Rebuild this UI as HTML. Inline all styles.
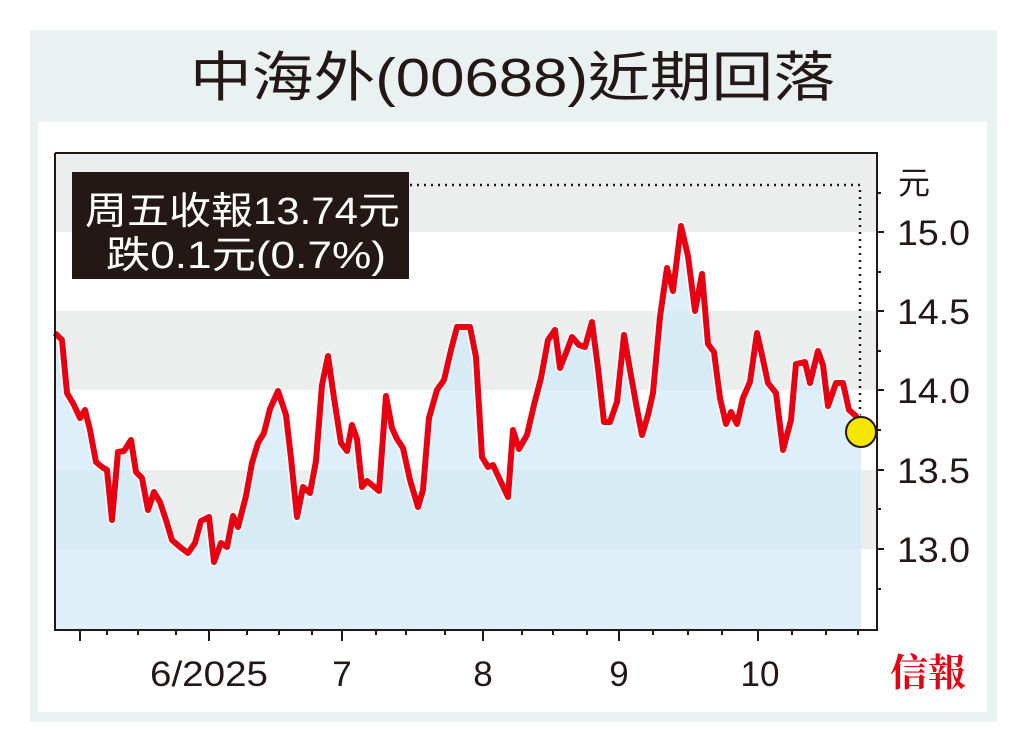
<!DOCTYPE html>
<html><head><meta charset="utf-8"><style>
body{margin:0;width:1024px;height:752px;background:#fff;overflow:hidden}
svg{display:block}
text{font-family:"Liberation Sans","Noto Sans CJK TC",sans-serif;fill:#231815}
</style></head><body>
<svg width="1024" height="752" viewBox="0 0 1024 752">
<rect x="30" y="30" width="967" height="692" fill="#e9f2f0"/>
<rect x="38" y="122" width="949" height="590" fill="#fff"/>
<text x="190" y="96" font-size="54" textLength="645" lengthAdjust="spacingAndGlyphs">中海外(00688)近期回落</text>
<rect x="55" y="153" width="822" height="79" fill="#eceeed"/>
<rect x="55" y="311" width="822" height="79" fill="#eceeed"/>
<rect x="55" y="470" width="822" height="79" fill="#eceeed"/>
<polygon fill="#cfe9f6" fill-opacity="0.7" points="55,629 55,333 62,340 67,393 74,405 80,418 85,410 90,430 96,462 102,467 107,470 112,520 118,452 124,451 131,440 136,472 142,478 148,510 154,492 160,502 166,520 172,540 180,547 188,553 195,543 201,521 209,517 214,562 221,543 227,547 233,516 238,527 246,496 252,463 258,443 264,433 270,409 278,391 286,415 291,458 297,517 303,487 310,493 316,461 322,385 328,356 334,398 341,443 347,451 352,425 357,439 362,487 367,481 372,485 379,491 386,396 392,428 397,439 403,448 410,480 418,507 423,490 429,418 437,390 444,380 451,350 457,327 466,327 470,327 476,357 482,457 488,467 493,465 500,480 508,497 513,430 519,449 527,435 534,405 541,378 548,340 555,330 560,368 566,353 572,337 579,345 585,347 592,322 598,368 604,422 610,422 617,402 624,335 630,370 637,409 642,435 648,415 653,393 660,317 667,268 673,291 681,226 688,256 695,311 702,274 708,344 714,352 720,398 726,424 731,412 737,424 743,398 750,382 757,333 762,355 768,383 776,393 783,450 791,420 796,364 805,362 810,383 818,351 823,365 828,406 836,383 843,383 849,410 856,416 861,431 861,629"/>
<polyline points="410,185 860,185 860,432" fill="none" stroke="#231815" stroke-width="2.5" stroke-dasharray="2 5"/>
<g fill="none" stroke-linejoin="round" id="ln">
<polyline stroke="#fff" stroke-width="9" points="55,333 62,340 67,393 74,405 80,418 85,410 90,430 96,462 102,467 107,470 112,520 118,452 124,451 131,440 136,472 142,478 148,510 154,492 160,502 166,520 172,540 180,547 188,553 195,543 201,521 209,517 214,562 221,543 227,547 233,516 238,527 246,496 252,463 258,443 264,433 270,409 278,391 286,415 291,458 297,517 303,487 310,493 316,461 322,385 328,356 334,398 341,443 347,451 352,425 357,439 362,487 367,481 372,485 379,491 386,396 392,428 397,439 403,448 410,480 418,507 423,490 429,418 437,390 444,380 451,350 457,327 466,327 470,327 476,357 482,457 488,467 493,465 500,480 508,497 513,430 519,449 527,435 534,405 541,378 548,340 555,330 560,368 566,353 572,337 579,345 585,347 592,322 598,368 604,422 610,422 617,402 624,335 630,370 637,409 642,435 648,415 653,393 660,317 667,268 673,291 681,226 688,256 695,311 702,274 708,344 714,352 720,398 726,424 731,412 737,424 743,398 750,382 757,333 762,355 768,383 776,393 783,450 791,420 796,364 805,362 810,383 818,351 823,365 828,406 836,383 843,383 849,410 856,416 861,431"/>
<polyline stroke="#e60012" stroke-width="6" points="55,333 62,340 67,393 74,405 80,418 85,410 90,430 96,462 102,467 107,470 112,520 118,452 124,451 131,440 136,472 142,478 148,510 154,492 160,502 166,520 172,540 180,547 188,553 195,543 201,521 209,517 214,562 221,543 227,547 233,516 238,527 246,496 252,463 258,443 264,433 270,409 278,391 286,415 291,458 297,517 303,487 310,493 316,461 322,385 328,356 334,398 341,443 347,451 352,425 357,439 362,487 367,481 372,485 379,491 386,396 392,428 397,439 403,448 410,480 418,507 423,490 429,418 437,390 444,380 451,350 457,327 466,327 470,327 476,357 482,457 488,467 493,465 500,480 508,497 513,430 519,449 527,435 534,405 541,378 548,340 555,330 560,368 566,353 572,337 579,345 585,347 592,322 598,368 604,422 610,422 617,402 624,335 630,370 637,409 642,435 648,415 653,393 660,317 667,268 673,291 681,226 688,256 695,311 702,274 708,344 714,352 720,398 726,424 731,412 737,424 743,398 750,382 757,333 762,355 768,383 776,393 783,450 791,420 796,364 805,362 810,383 818,351 823,365 828,406 836,383 843,383 849,410 856,416 861,431"/>
</g>
<circle cx="861" cy="432" r="15" fill="#f5e600" stroke="#231815" stroke-width="2"/>
<polyline points="55,153 877,153 877,630 55,630 55,153" fill="none" stroke="#231815" stroke-width="2"/>
<g stroke="#231815" stroke-width="2">
<line x1="877" y1="232" x2="884" y2="232"/><line x1="877" y1="311" x2="884" y2="311"/><line x1="877" y1="390" x2="884" y2="390"/><line x1="877" y1="470" x2="884" y2="470"/><line x1="877" y1="549" x2="884" y2="549"/>
<line x1="877" y1="193" x2="881" y2="193"/><line x1="877" y1="272" x2="881" y2="272"/><line x1="877" y1="351" x2="881" y2="351"/><line x1="877" y1="430" x2="881" y2="430"/><line x1="877" y1="509" x2="881" y2="509"/><line x1="877" y1="589" x2="881" y2="589"/>
<line x1="80" y1="630" x2="80" y2="641"/><line x1="209" y1="630" x2="209" y2="641"/><line x1="342" y1="630" x2="342" y2="641"/><line x1="483" y1="630" x2="483" y2="641"/><line x1="619" y1="630" x2="619" y2="641"/><line x1="758" y1="630" x2="758" y2="641"/>
<line x1="107" y1="630" x2="107" y2="635"/><line x1="138" y1="630" x2="138" y2="635"/><line x1="176" y1="630" x2="176" y2="635"/><line x1="247" y1="630" x2="247" y2="635"/><line x1="279" y1="630" x2="279" y2="635"/><line x1="312" y1="630" x2="312" y2="635"/><line x1="376" y1="630" x2="376" y2="635"/><line x1="406" y1="630" x2="406" y2="635"/><line x1="445" y1="630" x2="445" y2="635"/><line x1="522" y1="630" x2="522" y2="635"/><line x1="553" y1="630" x2="553" y2="635"/><line x1="587" y1="630" x2="587" y2="635"/><line x1="653" y1="630" x2="653" y2="635"/><line x1="688" y1="630" x2="688" y2="635"/><line x1="722" y1="630" x2="722" y2="635"/><line x1="792" y1="630" x2="792" y2="635"/><line x1="826" y1="630" x2="826" y2="635"/><line x1="858" y1="630" x2="858" y2="635"/>
</g>
<g font-size="35">
<text x="898" y="194" font-size="32">元</text>
<text x="897" y="245" textLength="73" lengthAdjust="spacingAndGlyphs">15.0</text><text x="897" y="324" textLength="73" lengthAdjust="spacingAndGlyphs">14.5</text><text x="897" y="403" textLength="73" lengthAdjust="spacingAndGlyphs">14.0</text><text x="897" y="483" textLength="73" lengthAdjust="spacingAndGlyphs">13.5</text><text x="897" y="562" textLength="73" lengthAdjust="spacingAndGlyphs">13.0</text>
<text x="150" y="686" textLength="118" lengthAdjust="spacingAndGlyphs">6/2025</text><text x="342" y="686" text-anchor="middle">7</text><text x="483" y="686" text-anchor="middle">8</text><text x="619" y="686" text-anchor="middle">9</text><text x="760" y="686" text-anchor="middle">10</text>
</g>
<rect x="72" y="172" width="337" height="107" fill="#231815"/>
<text x="85" y="224" font-size="38" textLength="315" lengthAdjust="spacingAndGlyphs" style="fill:#fff">周五收報13.74元</text>
<text x="106" y="268" font-size="38" textLength="280" lengthAdjust="spacingAndGlyphs" style="fill:#fff">跌0.1元(0.7%)</text>
<text x="928" y="686" font-size="38" font-weight="bold" text-anchor="middle" style="fill:#e60012;font-family:'Noto Serif CJK SC',serif">信報</text>
</svg>
</body></html>
